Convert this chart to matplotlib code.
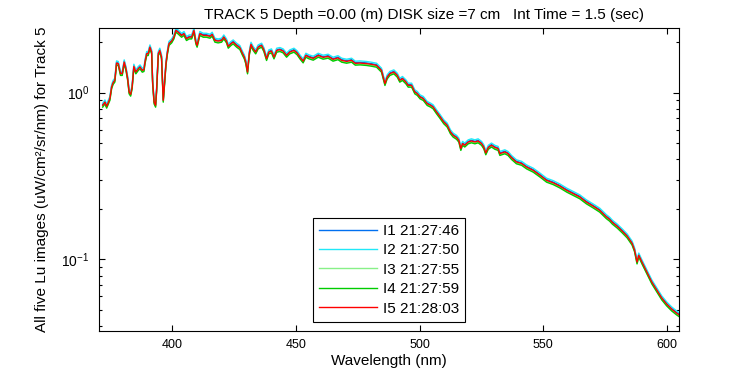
import matplotlib
matplotlib.use('Agg')
import matplotlib.pyplot as plt
import matplotlib.ticker as mticker
import numpy as np

plt.rcParams['font.family'] = ['Liberation Sans', 'DejaVu Sans']

# wavelength (nm) and Lu (I5)
wavelength = [
    371.8, 372.7, 373.4, 374.7, 375.4, 376.0, 376.7, 377.4, 378.1, 379.0,
    379.7, 380.5, 381.2, 381.9, 382.5, 383.1, 383.7, 384.4, 385.2, 386.2,
    386.9, 387.8, 388.5, 388.9, 389.6, 390.2, 390.9, 391.6, 392.0, 392.6,
    393.2, 393.6, 394.3, 394.9, 395.6, 396.3, 396.7, 397.4, 397.9, 398.6,
    399.7, 400.6, 401.4, 402.3, 403.0, 403.7, 404.7, 405.7, 406.8, 407.8,
    408.7, 409.5, 410.0, 411.1, 412.5, 413.8, 415.2, 416.1, 417.2, 418.5,
    419.9, 420.8, 421.9, 422.6, 423.7, 424.6, 426.0, 427.3, 428.4, 429.1,
    429.7, 430.4, 431.1, 431.8, 432.7, 433.7, 434.7, 436.1, 437.0, 438.1,
    439.0, 440.1, 441.1, 442.2, 443.5, 444.8, 446.2, 447.5, 449.2, 450.5,
    451.6, 452.9, 454.0, 455.3, 457.0, 459.0, 461.0, 463.0, 465.0, 467.0,
    468.5, 470.5, 472.5, 474.0, 475.9, 478.6, 480.5, 482.6, 484.6, 486.0,
    486.9, 488.0, 489.6, 491.0, 492.0, 493.1, 494.5, 495.4, 496.8, 498.1,
    499.1, 500.2, 501.5, 503.1, 504.5, 505.5, 506.9, 508.2, 509.8, 511.2,
    512.5, 513.6, 515.0, 515.9, 516.7, 517.4, 518.3, 519.7, 521.0, 522.4,
    523.7, 525.1, 526.0, 526.8, 527.8, 529.1, 530.5, 531.8, 532.5, 534.5,
    535.8, 537.2, 539.2, 541.3, 543.3, 546.0, 548.7, 551.4, 554.1, 556.8,
    559.5, 562.2, 564.8, 567.5, 570.2, 572.9, 575.6, 576.9, 578.0, 580.0,
    582.0, 584.0, 586.0, 587.0, 588.0, 588.7, 590.0, 592.0, 594.0, 596.0,
    598.0, 600.0, 602.0, 604.0, 605.0,
]
lu_i5 = [
    0.839, 0.878, 0.828, 0.921, 1.080, 1.148, 1.185, 1.504, 1.492, 1.300,
    1.300, 1.525, 1.392, 1.213, 1.008, 0.977, 1.080, 1.437, 1.329, 1.392,
    1.423, 1.360, 1.373, 1.525, 1.712, 1.712, 1.875, 1.751, 1.157, 0.878,
    0.839, 1.032, 1.712, 1.792, 1.634, 0.899, 1.080, 1.492, 1.712, 1.966,
    2.037, 2.152, 2.361, 2.306, 2.256, 2.203, 2.256, 2.105, 2.152, 2.152,
    2.361, 2.009, 1.920, 2.256, 2.203, 2.203, 2.174, 2.234, 2.057, 2.037,
    2.057, 2.152, 2.037, 1.893, 1.966, 2.009, 1.920, 1.859, 1.712, 1.634,
    1.525, 1.329, 1.712, 1.946, 1.834, 1.751, 1.875, 1.920, 1.809, 1.598,
    1.751, 1.775, 1.634, 1.792, 1.809, 1.775, 1.672, 1.751, 1.792, 1.726,
    1.634, 1.546, 1.672, 1.634, 1.605, 1.672, 1.627, 1.650, 1.583, 1.616,
    1.561, 1.539, 1.561, 1.498, 1.504, 1.492, 1.477, 1.457, 1.360, 1.132,
    1.240, 1.300, 1.329, 1.269, 1.185, 1.213, 1.157, 1.106, 1.106, 1.008,
    0.986, 0.941, 0.921, 0.859, 0.839, 0.820, 0.765, 0.721, 0.667, 0.637,
    0.581, 0.555, 0.538, 0.518, 0.462, 0.495, 0.484, 0.506, 0.513, 0.506,
    0.513, 0.495, 0.472, 0.435, 0.469, 0.484, 0.469, 0.462, 0.431, 0.441,
    0.431, 0.408, 0.384, 0.376, 0.358, 0.342, 0.320, 0.298, 0.288, 0.275,
    0.260, 0.248, 0.237, 0.221, 0.209, 0.197, 0.180, 0.174, 0.167, 0.158,
    0.148, 0.138, 0.125, 0.114, 0.0964, 0.106, 0.0964, 0.0839, 0.0731, 0.0655,
    0.0587, 0.0540, 0.0504, 0.0477, 0.0466,
]

# the other four images sit a pixel or two off the red one
labels = ['I1 21:27:46', 'I2 21:27:50', 'I3 21:27:55', 'I4 21:27:59', 'I5 21:28:03']
ratio_to_i5 = [1.01, 1.03, 0.985, 0.975, 1.0]
colors = ['#0070f0', '#20e8f8', '#88f088', '#00cc00', '#ff0000']

fig = plt.figure(figsize=(7.5, 3.75), dpi=100, facecolor='white')
ax = fig.add_axes([99 / 750, 1 - 330.7 / 375, 580.3 / 750, 302.4 / 375])

wl = np.array(wavelength)
base = np.array(lu_i5)
for lab, r, c in zip(labels, ratio_to_i5, colors):
    ax.plot(wl, base * r, color=c, lw=1.0, label=lab)

ax.set_yscale('log')
ax.set_xlim(370.3, 605.1)
ax.set_ylim(0.0374, 2.43)
ax.set_xticks([400, 450, 500, 550, 600])
ax.yaxis.set_major_locator(mticker.LogLocator(base=10, numticks=10))
ax.yaxis.set_minor_locator(mticker.LogLocator(base=10, subs=np.arange(2, 10), numticks=20))
ax.yaxis.set_minor_formatter(mticker.NullFormatter())

ax.tick_params(which='both', direction='in', top=True, right=True, width=0.8)
ax.tick_params(which='major', length=4)
ax.tick_params(which='minor', length=2.5)
ax.tick_params(axis='x', labelsize=9, pad=6)
ax.tick_params(axis='y', labelsize=10, pad=7)
for s in ax.spines.values():
    s.set_linewidth(0.8)

ax.set_xlabel('Wavelength (nm)', fontsize=11, labelpad=2)
ax.set_ylabel('All five Lu images (uW/cm²/sr/nm) for Track 5', fontsize=11)
ax.yaxis.set_label_coords(-(99 - 49) / 580.3, 0.5)

fig.text(424.5 / 750, 1 - 15 / 375, 'TRACK 5 Depth =0.00 (m) DISK size =7 cm   Int Time = 1.5 (sec)',
         ha='center', va='center', fontsize=11)

leg = ax.legend(loc='lower left', bbox_to_anchor=(0.368, 0.030), fontsize=11,
                fancybox=False, framealpha=1, edgecolor='black',
                handlelength=3.8, handletextpad=0.4, labelspacing=0.35,
                borderpad=0.4, borderaxespad=0)
leg.get_frame().set_linewidth(0.8)

plt.savefig('out.png', dpi=100, facecolor='white')
